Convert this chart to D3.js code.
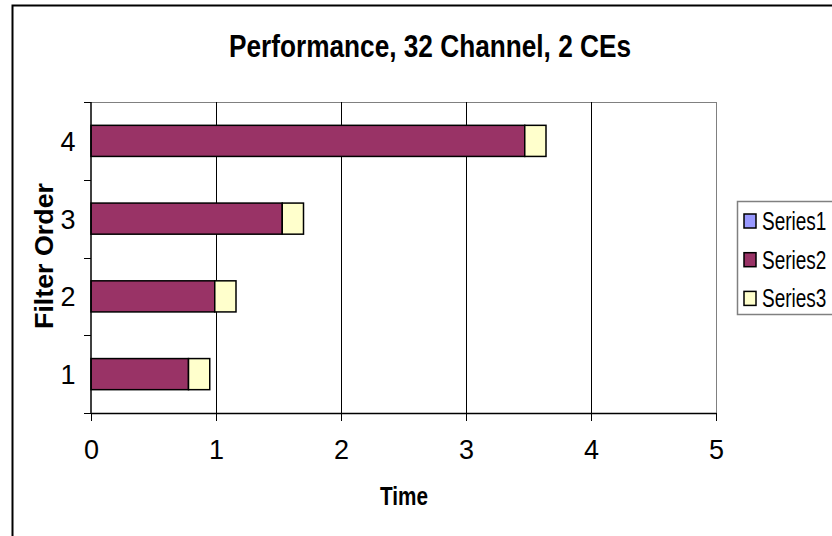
<!DOCTYPE html>
<html lang="en">
<head>
  <meta charset="UTF-8">
  <title>Performance, 32 Channel, 2 CEs</title>
  <script src="https://d3js.org/d3.v7.min.js"></script>
  <style>
    body { margin: 0; background: #fff; }
    svg { display: block; font-family: "Liberation Sans", Arial, sans-serif; }
  </style>
</head>
<body>
  <div id="chart"></div>

  <script>
    // Data
    const categories = ["1", "2", "3", "4"];
    const seriesNames = ["Series1", "Series2", "Series3"];
    const series1 = [0, 0, 0, 0];
    const series2 = [0.78, 0.99, 1.53, 3.47];
    const series3 = [0.17, 0.17, 0.17, 0.17];
    const xTicks = [0, 1, 2, 3, 4, 5];
    const colors = ["#9999ff", "#993366", "#ffffcc"];

    const width = 832;
    const height = 536;
    const plotTop = 102, plotBottom = 413;

    const svg = d3.select("#chart")
      .append("svg")
      .attr("width", width)
      .attr("height", height);

    // chart area border (cropped at right/bottom)
    svg.append("rect")
      .attr("x", 12.5).attr("y", 5.5)
      .attr("width", 900).attr("height", 600)
      .attr("fill", "#fff")
      .attr("stroke", "#000")
      .attr("stroke-width", 2);

    const x = d3.scaleLinear().domain([0, 5]).range([91, 716]);
    const y = d3.scaleBand()
      .domain(categories)
      .range([plotBottom, plotTop])
      .paddingInner(0.6)
      .paddingOuter(0.3);

    // title
    svg.append("text")
      .attr("x", 430).attr("y", 57)
      .attr("text-anchor", "middle")
      .attr("font-size", 32)
      .attr("font-weight", "bold")
      .attr("textLength", 402)
      .attr("lengthAdjust", "spacingAndGlyphs")
      .text("Performance, 32 Channel, 2 CEs");

    // plot border: top and right grey
    svg.append("line")
      .attr("x1", x(0)).attr("x2", x(5))
      .attr("y1", plotTop + 0.5).attr("y2", plotTop + 0.5)
      .attr("stroke", "#808080");
    svg.append("line")
      .attr("x1", x(5) + 0.5).attr("x2", x(5) + 0.5)
      .attr("y1", plotTop).attr("y2", plotBottom)
      .attr("stroke", "#808080");

    // vertical gridlines
    svg.append("g")
      .selectAll("line")
      .data(xTicks.filter(d => d > 0 && d < 5))
      .join("line")
      .attr("x1", d => Math.round(x(d)) + 0.5)
      .attr("x2", d => Math.round(x(d)) + 0.5)
      .attr("y1", plotTop).attr("y2", plotBottom)
      .attr("stroke", "#000");

    // stacked bars
    const rows = categories.map((c, i) => ({
      cat: c, Series1: series1[i], Series2: series2[i], Series3: series3[i]
    }));
    const stacked = d3.stack().keys(seriesNames)(rows);

    svg.append("g")
      .selectAll("g")
      .data(stacked)
      .join("g")
      .attr("fill", (d, i) => colors[i])
      .selectAll("rect")
      .data(d => d.filter(p => p[1] - p[0] > 0))
      .join("rect")
      .attr("x", d => x(d[0]))
      .attr("y", d => y(d.data.cat))
      .attr("width", d => x(d[1]) - x(d[0]))
      .attr("height", y.bandwidth())
      .attr("stroke", "#000")
      .attr("stroke-width", 1.5);

    // x axis
    const xAxis = d3.axisBottom(x)
      .tickValues(xTicks)
      .tickFormat(d3.format("d"))
      .tickSize(8)
      .tickSizeOuter(0)
      .tickPadding(19);
    const gx = svg.append("g")
      .attr("transform", `translate(0,${plotBottom})`)
      .call(xAxis);
    gx.select(".domain").attr("stroke", "#000").attr("stroke-width", 1.5);
    gx.selectAll(".tick line").attr("stroke", "#000");
    gx.selectAll(".tick text")
      .attr("font-size", 27)
      .attr("font-family", "Liberation Sans, Arial, sans-serif")
      .attr("fill", "#000");

    // y axis: ticks between categories, labels centred on bands
    const yBounds = d3.range(categories.length + 1).map(i => plotBottom - i * y.step());
    svg.append("line")
      .attr("x1", x(0)).attr("x2", x(0))
      .attr("y1", plotTop).attr("y2", plotBottom)
      .attr("stroke", "#000")
      .attr("stroke-width", 1.5);
    svg.append("g")
      .selectAll("line")
      .data(yBounds)
      .join("line")
      .attr("x1", x(0) - 7).attr("x2", x(0))
      .attr("y1", d => Math.round(d) + 0.5)
      .attr("y2", d => Math.round(d) + 0.5)
      .attr("stroke", "#000");
    svg.append("g")
      .selectAll("text")
      .data(categories)
      .join("text")
      .attr("x", 68)
      .attr("y", d => y(d) + y.bandwidth() / 2 + 10)
      .attr("text-anchor", "middle")
      .attr("font-size", 27)
      .text(d => d);

    // axis titles
    svg.append("text")
      .attr("x", 404).attr("y", 505)
      .attr("text-anchor", "middle")
      .attr("font-size", 26)
      .attr("font-weight", "bold")
      .attr("textLength", 48)
      .attr("lengthAdjust", "spacingAndGlyphs")
      .text("Time");

    svg.append("text")
      .attr("transform", "translate(53,256) rotate(-90)")
      .attr("text-anchor", "middle")
      .attr("font-size", 26)
      .attr("font-weight", "bold")
      .attr("textLength", 146)
      .attr("lengthAdjust", "spacingAndGlyphs")
      .text("Filter Order");

    // legend
    const legend = svg.append("g").attr("transform", "translate(737,201)");
    legend.append("rect")
      .attr("x", 0.5).attr("y", 0.5)
      .attr("width", 120).attr("height", 113)
      .attr("fill", "#fff")
      .attr("stroke", "#808080")
      .attr("stroke-width", 1.5);
    const item = legend.selectAll("g.item")
      .data(seriesNames)
      .join("g")
      .attr("class", "item")
      .attr("transform", (d, i) => `translate(0,${20 + i * 38.7})`);
    item.append("rect")
      .attr("x", 7).attr("y", -7)
      .attr("width", 12).attr("height", 14)
      .attr("fill", (d, i) => colors[i])
      .attr("stroke", "#000")
      .attr("stroke-width", 1.5);
    // condensed legend labels
    item.append("text")
      .attr("transform", "translate(25,9) scale(0.76,1)")
      .attr("font-size", 25)
      .text(d => d);
  </script>
</body>
</html>
